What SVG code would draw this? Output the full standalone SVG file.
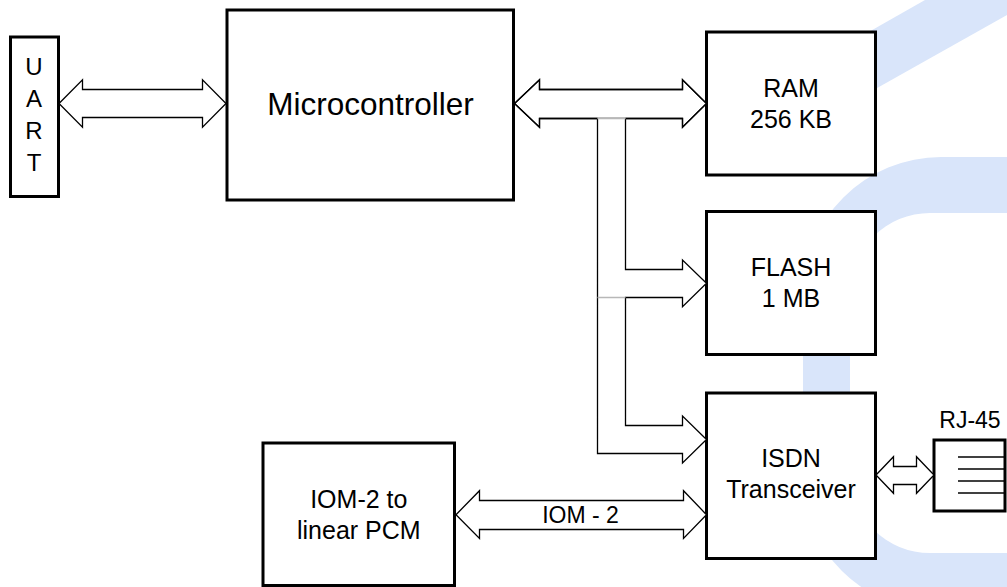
<svg xmlns="http://www.w3.org/2000/svg" width="1007" height="587" viewBox="0 0 1007 587">
  <style>
    .box { fill: #ffffff; stroke: #000000; stroke-width: 3; }
    .bus { fill: #ffffff; stroke: #000000; stroke-width: 1.3; stroke-linejoin: miter; }
    .edge { fill: none; stroke: #000000; stroke-width: 1.3; }
    .faint { fill: none; stroke: #b8b8b8; stroke-width: 1.3; }
    .lbl { font-family: "Liberation Sans", Arial, sans-serif; font-size: 25px; fill: #000000; text-anchor: middle; }
    .tall { font-size: 24px; }
    .small { font-size: 23px; }
    .big { font-size: 31.5px; }
    .wm { fill: #d9e5fa; stroke: none; }
  </style>

  <!-- light background emblem -->
  <g id="emblem">
    <polygon class="wm" points="870,31.3 925,0 1007,0 1007,15 870,92"/>
    <path class="wm" d="M1007,157 L941,157 A138,138 0 0 0 803,295 L803,477 A133,133 0 0 0 936,610 L1007,610 L1007,553 L930,553 A80,80 0 0 1 850,473 L850,293 A80,80 0 0 1 930,213 L1007,213 Z"/>
  </g>

  <!-- blocks -->
  <g id="uart">
    <rect class="box" x="10.5" y="37" width="48" height="159.5"/>
    <text class="lbl tall" x="34" y="75">U</text>
    <text class="lbl tall" x="34" y="106.7">A</text>
    <text class="lbl tall" x="34" y="139.3">R</text>
    <text class="lbl tall" x="34" y="170.7">T</text>
  </g>

  <g id="microcontroller">
    <rect class="box" x="227" y="10" width="286.5" height="190"/>
    <text class="lbl big" x="370.5" y="115">Microcontroller</text>
  </g>

  <g id="ram">
    <rect class="box" x="706.5" y="32" width="169" height="143"/>
    <text class="lbl" x="791" y="96.7">RAM</text>
    <text class="lbl" x="791" y="128">256 KB</text>
  </g>

  <g id="flash">
    <rect class="box" x="706.5" y="211.5" width="169" height="143"/>
    <text class="lbl" x="791" y="276">FLASH</text>
    <text class="lbl" x="791" y="307">1 MB</text>
  </g>

  <g id="isdn">
    <rect class="box" x="706.5" y="393" width="169" height="165.5"/>
    <text class="lbl" x="791" y="467">ISDN</text>
    <text class="lbl" x="791" y="498">Transceiver</text>
  </g>

  <g id="iom-converter">
    <rect class="box" x="263" y="443" width="191.5" height="142.5"/>
    <text class="lbl" x="358.8" y="508">IOM-2 to</text>
    <text class="lbl" x="358.8" y="539">linear PCM</text>
  </g>

  <g id="rj45">
    <rect class="box" x="934" y="440" width="71" height="71"/>
    <line class="edge" x1="958" y1="457" x2="1005" y2="457"/>
    <line class="edge" x1="958" y1="469" x2="1005" y2="469"/>
    <line class="edge" x1="958" y1="481" x2="1005" y2="481"/>
    <line class="edge" x1="958" y1="493" x2="1005" y2="493"/>
    <text class="lbl small" x="970" y="428.3">RJ-45</text>
  </g>

  <!-- connectors: hollow bus arrows -->
  <g id="connectors">
    <!-- UART <-> Microcontroller -->
    <path class="bus" d="M59,103.5 L82.5,79.8 L82.5,89.5 L202.5,89.5 L202.5,79.8 L226,103.5 L202.5,127.2 L202.5,117.5 L82.5,117.5 L82.5,127.2 Z"/>

    <!-- Microcontroller <-> RAM, with the memory bus branching off below -->
    <path class="bus" stroke="none" d="M514.5,103.5 L539.5,79.8 L539.5,89.5 L682.5,89.5 L682.5,79.8 L706.5,103.5 L682.5,127.2 L682.5,118.5 L539.5,118.5 L539.5,127.2 Z"/>
    <path class="edge" d="M597.5,118.5 L539.5,118.5 L539.5,127.2 L514.5,103.5 L539.5,79.8 L539.5,89.5 L682.5,89.5 L682.5,79.8 L706.5,103.5 L682.5,127.2 L682.5,118.5 L625.5,118.5"/>
    <path class="bus" d="M597.5,118.5 V453.5 H682.5 V463 L706.5,439.5 L682.5,416 V425.5 H625.5 V297.5 H682.5 V306.7 L706.5,283.3 L682.5,260 V269.5 H625.5 V118.5"/>
    <path class="faint" d="M597.5,118.5 H625.5 M597.5,297.5 H625.5"/>

    <!-- IOM-2 link -->
    <path class="bus" d="M456,514.7 L479.5,490.7 L479.5,500.5 L683.5,500.5 L683.5,490.7 L706.5,514.7 L683.5,538.5 L683.5,529.5 L479.5,529.5 L479.5,538.5 Z"/>
    <text class="lbl small" x="580.5" y="523.3">IOM - 2</text>

    <!-- ISDN Transceiver <-> RJ-45 -->
    <path class="bus" d="M876,475 L893.5,456.7 L893.5,466.5 L916.5,466.5 L916.5,456.7 L934,475 L916.5,493.3 L916.5,484.5 L893.5,484.5 L893.5,493.3 Z"/>
  </g>
</svg>
